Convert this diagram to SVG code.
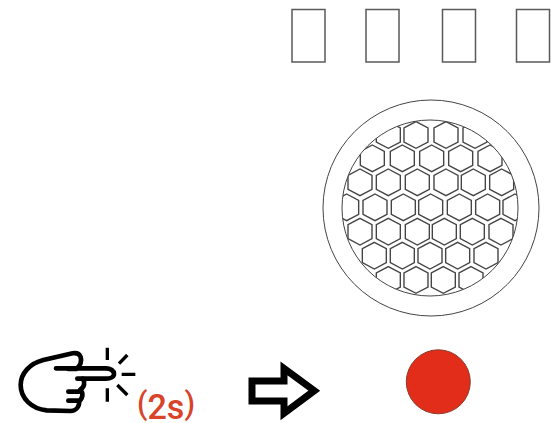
<svg xmlns="http://www.w3.org/2000/svg" xmlns:xlink="http://www.w3.org/1999/xlink" width="553" height="423" viewBox="0 0 553 423">
<style>
.slot{fill:#fff;stroke:#5a5a5a;stroke-width:1.5}
.ring{fill:none;stroke:#444;stroke-width:1}
.hex{fill:#fff;stroke:#444;stroke-width:4.200;stroke-linejoin:miter}
.hand{fill:none;stroke:#000;stroke-width:14;stroke-linecap:round;stroke-linejoin:round}
.ray{fill:none;stroke:#000;stroke-width:10;stroke-linecap:butt}
.paren{font-size:31px}
</style>
<defs>
<polygon id="h" class="hex" points="0,-40 36,-21 36,21 0,40 -36,21 -36,-21"/>
<clipPath id="c"><circle cx="360" cy="354" r="264"/></clipPath>
</defs>
<rect width="553" height="423" fill="#fff"/>
<g id="slots">
<rect class="slot" x="292" y="9.500" width="33" height="52.500"/>
<rect class="slot" x="366" y="9.500" width="33" height="52.500"/>
<rect class="slot" x="442.500" y="9.500" width="33" height="52.500"/>
<rect class="slot" x="516.500" y="9.500" width="33" height="52.500"/>
</g>
<g id="lens">
<circle class="ring" cx="431" cy="208" r="108"/>
<g transform="translate(310 90) scale(.33333)" clip-path="url(#c)">
<use xlink:href="#h" x="235" y="135"/><use xlink:href="#h" x="318" y="135"/><use xlink:href="#h" x="408" y="135"/><use xlink:href="#h" x="495" y="135"/>
<use xlink:href="#h" x="187" y="205"/><use xlink:href="#h" x="277" y="205"/><use xlink:href="#h" x="365" y="205"/><use xlink:href="#h" x="452" y="205"/><use xlink:href="#h" x="540" y="205"/>
<use xlink:href="#h" x="150" y="277"/><use xlink:href="#h" x="235" y="277"/><use xlink:href="#h" x="322" y="277"/><use xlink:href="#h" x="408" y="277"/><use xlink:href="#h" x="490" y="277"/><use xlink:href="#h" x="575" y="277"/>
<use xlink:href="#h" x="110" y="352"/><use xlink:href="#h" x="195" y="352"/><use xlink:href="#h" x="280" y="352"/><use xlink:href="#h" x="362" y="352"/><use xlink:href="#h" x="448" y="352"/><use xlink:href="#h" x="533" y="352"/><use xlink:href="#h" x="615" y="352"/>
<use xlink:href="#h" x="150" y="425"/><use xlink:href="#h" x="235" y="425"/><use xlink:href="#h" x="322" y="425"/><use xlink:href="#h" x="403" y="425"/><use xlink:href="#h" x="487" y="425"/><use xlink:href="#h" x="573" y="425"/>
<use xlink:href="#h" x="193" y="497"/><use xlink:href="#h" x="277" y="497"/><use xlink:href="#h" x="360" y="497"/><use xlink:href="#h" x="443" y="497"/><use xlink:href="#h" x="528" y="497"/>
<use xlink:href="#h" x="235" y="570"/><use xlink:href="#h" x="318" y="570"/><use xlink:href="#h" x="400" y="570"/><use xlink:href="#h" x="483" y="570"/>
</g>
<circle class="ring" cx="430" cy="208" r="88"/>
</g>
<g id="hand" transform="translate(0 335) scale(.33333)">
<path class="hand" d="M168 100H318C332 100 342 108 342 116C342 125 332 131 318 131H232"/>
<path class="hand" d="M205 102H228C242 92 246 80 242 66C238 56 228 53 218 55L130 75C90 85 62 115 62 150C62 190 95 222 140 226L212 228C228 228 238 215 238 198C250 188 250 172 240 165C254 155 256 142 248 131M205 170H240M205 197H236"/>
<path class="ray" d="M322 38V75M382 60L357 86M365 118H406M352 150L382 180M322 160V200"/>
</g>
<text id="duration" x="137" y="414" font-family="Roboto, 'Liberation Sans', sans-serif" font-size="35" font-weight="500" textLength="58" lengthAdjust="spacingAndGlyphs" fill="#d8432a"><tspan class="paren">(</tspan><tspan dy="4.500">2s</tspan><tspan class="paren" dy="-4.500">)</tspan></text>
<g id="arrow" transform="translate(230 335) scale(.33333)">
<polygon points="66,138 162,138 162,100 253,167 162,235 162,198 66,198" fill="#fff" stroke="#000" stroke-width="21" stroke-miterlimit="6"/>
</g>
<circle id="indicator" cx="438.300" cy="381.800" r="32" fill="#e22d1a" stroke="#8a3b2b" stroke-width="1"/>
</svg>
